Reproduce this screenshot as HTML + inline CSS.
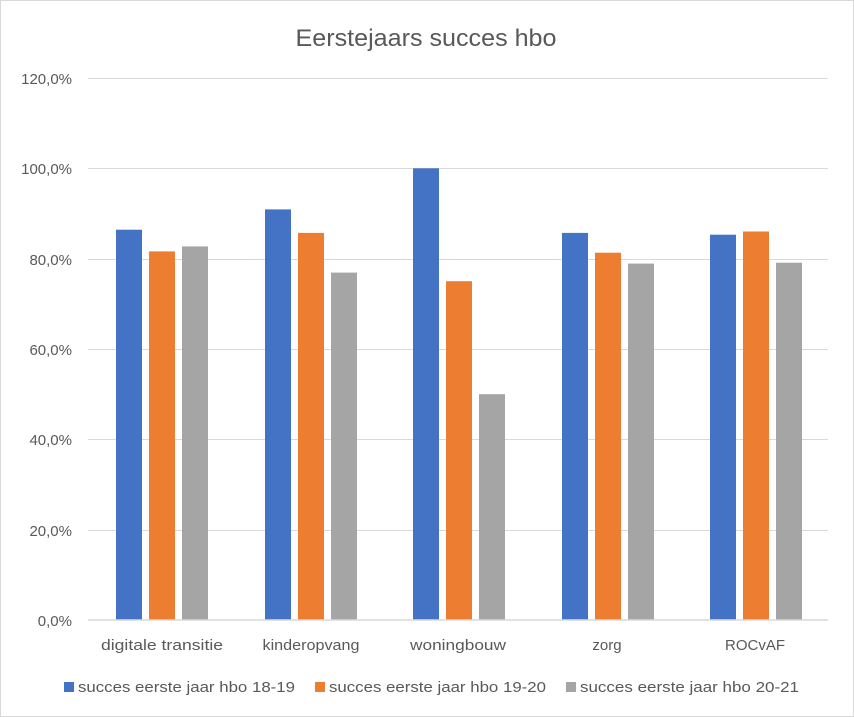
<!DOCTYPE html>
<html><head><meta charset="utf-8"><style>
body{margin:0;background:#fff}
svg{display:block;font-family:"Liberation Sans",Calibri,sans-serif}
</style></head><body>
<svg width="854" height="717" viewBox="0 0 854 717" xmlns="http://www.w3.org/2000/svg">
<rect x="0.5" y="0.5" width="853" height="716" fill="#fff" stroke="#d9d9d9"/>
<text x="426" y="46" font-size="24" fill="#595959" text-anchor="middle" textLength="261" lengthAdjust="spacingAndGlyphs">Eerstejaars succes hbo</text>
<g stroke="#d9d9d9" stroke-width="1">
<line x1="88" x2="828" y1="78.5" y2="78.5"/>
<line x1="88" x2="828" y1="168.5" y2="168.5"/>
<line x1="88" x2="828" y1="259.5" y2="259.5"/>
<line x1="88" x2="828" y1="349.5" y2="349.5"/>
<line x1="88" x2="828" y1="439.5" y2="439.5"/>
<line x1="88" x2="828" y1="530.5" y2="530.5"/>
</g>
<g font-size="15" fill="#595959" text-anchor="end">
<text x="72" y="84">120,0%</text>
<text x="72" y="174">100,0%</text>
<text x="72" y="265">80,0%</text>
<text x="72" y="355">60,0%</text>
<text x="72" y="445">40,0%</text>
<text x="72" y="536">20,0%</text>
<text x="72" y="626">0,0%</text>
</g>
<g>
<rect x="116" y="229.7" width="26" height="390.3" fill="#4472c4"/>
<rect x="149" y="251.4" width="26" height="368.6" fill="#ed7d31"/>
<rect x="182" y="246.4" width="26" height="373.6" fill="#a5a5a5"/>
<rect x="265" y="209.4" width="26" height="410.6" fill="#4472c4"/>
<rect x="298" y="232.9" width="26" height="387.1" fill="#ed7d31"/>
<rect x="331" y="272.6" width="26" height="347.4" fill="#a5a5a5"/>
<rect x="413" y="168.3" width="26" height="451.7" fill="#4472c4"/>
<rect x="446" y="281.2" width="26" height="338.8" fill="#ed7d31"/>
<rect x="479" y="394.2" width="26" height="225.8" fill="#a5a5a5"/>
<rect x="562" y="232.9" width="26" height="387.1" fill="#4472c4"/>
<rect x="595" y="252.7" width="26" height="367.3" fill="#ed7d31"/>
<rect x="628" y="263.6" width="26" height="356.4" fill="#a5a5a5"/>
<rect x="710" y="234.7" width="26" height="385.3" fill="#4472c4"/>
<rect x="743" y="231.5" width="26" height="388.5" fill="#ed7d31"/>
<rect x="776" y="262.7" width="26" height="357.3" fill="#a5a5a5"/>
</g>
<line x1="88" x2="828" y1="620" y2="620" stroke="#d9d9d9" stroke-width="1.5"/>
<g font-size="15" fill="#595959" text-anchor="middle">
<text x="162" y="650" textLength="122" lengthAdjust="spacingAndGlyphs">digitale transitie</text>
<text x="311" y="650" textLength="97" lengthAdjust="spacingAndGlyphs">kinderopvang</text>
<text x="458" y="650" textLength="96" lengthAdjust="spacingAndGlyphs">woningbouw</text>
<text x="607" y="650">zorg</text>
<text x="755" y="650" textLength="60" lengthAdjust="spacingAndGlyphs">ROCvAF</text>
</g>
<g font-size="15" fill="#595959">
<rect x="64" y="682" width="10" height="10" fill="#4472c4"/>
<text x="78" y="692" textLength="217" lengthAdjust="spacingAndGlyphs">succes eerste jaar hbo 18-19</text>
<rect x="315" y="682" width="10" height="10" fill="#ed7d31"/>
<text x="329" y="692" textLength="217" lengthAdjust="spacingAndGlyphs">succes eerste jaar hbo 19-20</text>
<rect x="566" y="682" width="10" height="10" fill="#a5a5a5"/>
<text x="580" y="692" textLength="219" lengthAdjust="spacingAndGlyphs">succes eerste jaar hbo 20-21</text>
</g>
</svg>
</body></html>
